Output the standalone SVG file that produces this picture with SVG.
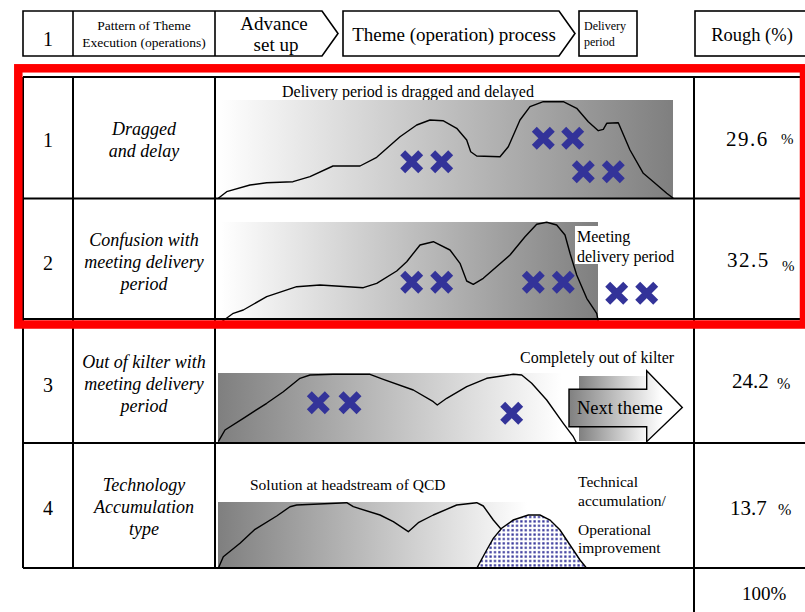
<svg xmlns="http://www.w3.org/2000/svg" xmlns:xlink="http://www.w3.org/1999/xlink" width="805" height="612" viewBox="0 0 805 612">
<style>
text{font-family:"Liberation Serif","Times New Roman",serif;fill:#000}
.hb{fill:#fff;stroke:#000;stroke-width:1.6}
.grid{stroke:#000;stroke-width:2;fill:none}
.num{font-size:20px;text-anchor:middle}
.lab{font-size:18px;font-style:italic;text-anchor:middle}
.val{font-size:21px}
.g{font-size:16px}
.curve{fill:none;stroke:#000;stroke-width:1.4;stroke-linejoin:round}
</style>
<defs>
<linearGradient id="gR" x1="0" y1="0" x2="1" y2="0"><stop offset="0" stop-color="#fff"/><stop offset="1" stop-color="#7f7f7f"/></linearGradient>
<linearGradient id="gL3" x1="0" y1="0" x2="1" y2="0"><stop offset="0" stop-color="#7f7f7f"/><stop offset="0.75" stop-color="#fff"/><stop offset="1" stop-color="#fff"/></linearGradient>
<linearGradient id="gL4" x1="0" y1="0" x2="1" y2="0"><stop offset="0" stop-color="#7f7f7f"/><stop offset="1" stop-color="#fff"/></linearGradient>
<linearGradient id="gArr" gradientUnits="userSpaceOnUse" x1="569" y1="0" x2="662" y2="0"><stop offset="0" stop-color="#808080"/><stop offset="1" stop-color="#fff"/></linearGradient>
<linearGradient id="gBox" gradientUnits="userSpaceOnUse" x1="579" y1="0" x2="650" y2="0"><stop offset="0" stop-color="#808080"/><stop offset="1" stop-color="#fff"/></linearGradient>
<pattern id="dots" width="4.4" height="4.4" patternUnits="userSpaceOnUse"><rect width="4.4" height="4.4" fill="#fff"/><rect x="1.1" y="1.1" width="2.2" height="2.2" fill="#333399"/></pattern>
<path id="xm" d="M-9,-9L9,9M9,-9L-9,9" stroke="#333399" stroke-width="7" fill="none"/>
</defs>

<g id="header">
<path class="hb" d="M23,11H322L338,33.5L322,56H23Z"/>
<path class="grid" style="stroke-width:1.6" d="M73,11V56M215,11V56"/>
<text x="48" y="46" class="num">1</text>
<text x="144" y="30" font-size="13.5" text-anchor="middle">Pattern of Theme</text>
<text x="144" y="47" font-size="13.5" text-anchor="middle">Execution (operations)</text>
<text x="274" y="30" font-size="19" text-anchor="middle">Advance</text>
<text x="276" y="51" font-size="19" text-anchor="middle">set up</text>
<path class="hb" d="M343,11H559L575,33.5L559,56H343Z"/>
<text x="454" y="41" font-size="19" text-anchor="middle">Theme (operation) process</text>
<rect class="hb" x="579" y="11" width="58" height="45"/>
<text x="584" y="30" font-size="12">Delivery</text>
<text x="584" y="46" font-size="12">period</text>
<rect class="hb" x="695" y="11" width="112" height="45"/>
<text x="752" y="41" font-size="18.5" text-anchor="middle">Rough (%)</text>
</g>

<g id="row1">
<text x="282" y="97" class="g">Delivery period is dragged and delayed</text>
<rect x="218" y="100" width="455" height="98" fill="url(#gR)"/>
<polyline class="curve" points="218.3,198.3 226.7,191.7 250,185 266.7,182.7 293,181.7 310,176.7 333,166 360,166 376.7,157.3 400,136.7 416.7,125 430,120 443,120.7 456.7,128.3 466.7,140 470.7,151.7 476.7,156 500,156.7 508.3,146.7 520,120 530,106.7 543.3,101.7 563.3,101.7 576.7,108.3 588.3,121.7 598.3,130.7 603.3,129.3 606.7,123.3 618.3,122.7 630,150 643.3,173.3 653.3,181.7 666.7,193.3 673.3,198.3"/>
<use href="#xm" x="411.7" y="161.7"/><use href="#xm" x="441.7" y="161.7"/>
<use href="#xm" x="543.3" y="138.3"/><use href="#xm" x="572.7" y="138.3"/>
<use href="#xm" x="583.3" y="171.7"/><use href="#xm" x="613.3" y="171.7"/>
<text x="48" y="147" class="num">1</text>
<text x="144" y="135" class="lab">Dragged</text>
<text x="144" y="157" class="lab">and delay</text>
<text x="726" y="146" class="val" letter-spacing="1.5">29.6</text>
<text x="781" y="144" font-size="15">%</text>
</g>

<g id="row2">
<rect x="221" y="222" width="377" height="99" fill="url(#gR)"/>
<rect x="575" y="226" width="23" height="38" fill="#fff"/>
<polyline class="curve" points="221.7,321.7 233.3,313.3 243.3,310 266.7,296.7 296.7,286.7 320,285 363.3,287.7 376.7,283.3 396.7,271 406.7,261.7 420,245 433.3,241.7 450,250 460,263.3 466.7,281 473.3,284.3 483.3,278.3 510,255 525,236.7 536.7,224.3 546.7,222.3 556.7,225 565,235 570,253.3 576.7,275 586.7,298.3 596.7,313.3 598.3,321.7"/>
<use href="#xm" x="411.7" y="282.3"/><use href="#xm" x="441.7" y="282.3"/>
<use href="#xm" x="533.3" y="282.3"/><use href="#xm" x="563.3" y="282.3"/>
<use href="#xm" x="616.7" y="293.3"/><use href="#xm" x="646.7" y="293.3"/>
<text x="577" y="242" class="g">Meeting</text>
<text x="577" y="262" class="g">delivery period</text>
<text x="48" y="270" class="num">2</text>
<text x="144" y="246" class="lab">Confusion with</text>
<text x="144" y="268" class="lab">meeting delivery</text>
<text x="144" y="290" class="lab">period</text>
<text x="727" y="267" class="val" letter-spacing="1.5">32.5</text>
<text x="782" y="271" font-size="15">%</text>
</g>

<g id="row3">
<text x="520" y="363" class="g">Completely out of kilter</text>
<rect x="218" y="373" width="459" height="70" fill="url(#gL3)"/>
<polyline class="curve" points="218.3,441.7 225,430 243.3,418.3 266.7,403.3 283.3,391.7 300,378.3 310,375 333.3,374.3 370,374.3 383.3,379.3 413.3,390 433.3,401.7 437.3,405 446.7,398.3 466.7,386.7 486.7,378.3 513.3,374.3 521.7,375 531.7,383.3 546.7,400 563.3,423.3 573.3,436.7 576.7,443.3"/>
<use href="#xm" x="318.3" y="402.7"/><use href="#xm" x="350" y="402.7"/>
<use href="#xm" x="511.7" y="413.3"/>
<rect x="579" y="376" width="98" height="65" fill="url(#gBox)"/>
<path d="M569,389.3H646.7V370.7L682.3,407.5L646.7,441.7V426.7H569Z" fill="url(#gArr)" stroke="#000" stroke-width="1.4"/>
<text x="577" y="414" font-size="18.5">Next theme</text>
<text x="48" y="392" class="num">3</text>
<text x="144" y="368" class="lab">Out of kilter with</text>
<text x="144" y="390" class="lab">meeting delivery</text>
<text x="144" y="412" class="lab">period</text>
<text x="732" y="388" class="val">24.2</text>
<text x="777" y="389" font-size="16">%</text>
</g>

<g id="row4">
<text x="250" y="490" font-size="15.5">Solution at headstream of QCD</text>
<rect x="218" y="502" width="309" height="66" fill="url(#gL4)"/>
<polyline class="curve" points="218.3,568.3 223.3,556.7 240,543.3 255,529.3 276.7,516 290,506.7 296.7,505 346.7,502.7 353.3,506.7 380,515 393.3,521.7 408.3,531.7 418.3,522.7 433.3,515 456.7,505 476.7,502.7 483.3,506 493.3,520 503.3,531.7"/>
<path d="M476.7,568.3L486.7,550L493.3,538.3L501.7,528.3L513.3,520L528.3,515L540,515L550,520L560,530L570,545L580,560L586.7,568.3" fill="url(#dots)" stroke="#000" stroke-width="1.4"/>
<text x="578" y="487" font-size="15.5">Technical</text>
<text x="578" y="506" font-size="15.5">accumulation/</text>
<text x="578" y="535" font-size="15.5">Operational</text>
<text x="578" y="553" font-size="15.5">improvement</text>
<text x="48" y="515" class="num">4</text>
<text x="144" y="491" class="lab">Technology</text>
<text x="144" y="513" class="lab">Accumulation</text>
<text x="144" y="535" class="lab">type</text>
<text x="730" y="515" class="val">13.7</text>
<text x="778" y="515" font-size="16">%</text>
</g>

<g id="total">
<text x="742" y="600" font-size="19">100%</text>
</g>

<g id="grid">
<path class="grid" d="M23,77H807M23,198.5H807M23,319H807M23,443H807M23,568H807M23,77V568M73,77V568M215,77V568M694,77V613M806,77V613"/>
</g>

<g id="highlight">
<rect x="18.3" y="68.3" width="785.7" height="256.2" fill="none" stroke="#ff0000" stroke-width="8.5"/>
</g>
</svg>
